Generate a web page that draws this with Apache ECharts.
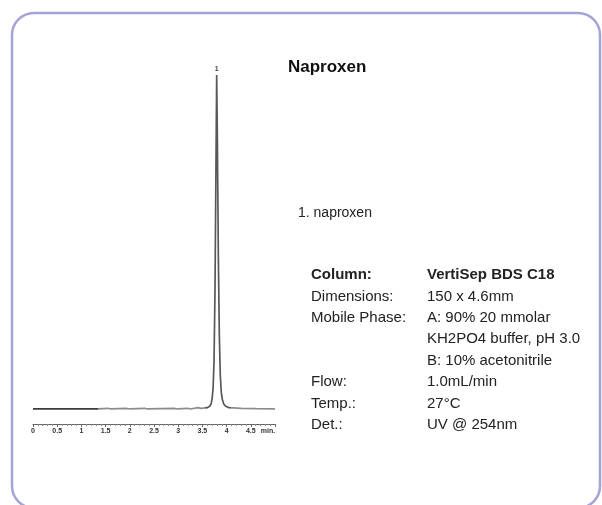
<!DOCTYPE html>
<html>
<head>
<meta charset="utf-8">
<title>Naproxen</title>
<script src="https://cdn.jsdelivr.net/npm/echarts@6/dist/echarts.min.js"></script>
<style>
    html, body {margin: 0; padding: 0; background: #fff;}
    #chart {width: 602px; height: 505px;}
</style>
</head>
<body>
<div id="chart"></div>
<script>
// retention time (min) and detector signal (% of peak height)
var timeMin = [0, 0.6, 1.35, 1.55, 1.6, 1.94, 2.0, 2.31, 2.36, 2.93, 2.98, 3.2, 3.25, 3.41, 3.47,
    3.6, 3.65, 3.68, 3.70, 3.72, 3.74, 3.76, 3.78, 3.795, 3.81, 3.83, 3.85, 3.87, 3.89, 3.91,
    3.94, 3.98, 4.05, 4.3, 4.6, 5.0];
var signal = [0, 0, 0, 0.2, 0, 0.15, 0, 0.2, 0, 0.15, 0, 0.2, 0, 0.4, 0.2,
    0.4, 0.8, 1.5, 3, 6, 14, 35, 72, 100, 80, 45, 22, 10, 5, 3,
    1.5, 0.8, 0.4, 0.2, 0.1, 0];

var tickLabels = ['0', '0.5', '1', '1.5', '2', '2.5', '3', '3.5', '4', '4.5', 'min.'];

var peakNames = ['1. naproxen'];

var infoLabels = ['Column:', 'Dimensions:', 'Mobile Phase:', '', '', 'Flow:', 'Temp.:', 'Det.:'];
var infoValues = ['VertiSep BDS C18', '150 x 4.6mm', 'A: 90% 20 mmolar', 'KH2PO4 buffer, pH 3.0',
    'B: 10% acetonitrile', '1.0mL/min', '27\u00B0C', 'UV @ 254nm'];

var chart = echarts.init(document.getElementById('chart'));

var seriesData = [];
for (var i = 0; i < timeMin.length; i++) {
    seriesData.push([timeMin[i], signal[i]]);
}

var graphics = [
    {
        type: 'rect',
        shape: {x: 12, y: 13, width: 588, height: 495, r: 22},
        style: {fill: 'none', stroke: '#a4a4d8', lineWidth: 2.5}
    },
    {
        type: 'text', x: 288, y: 67,
        style: {text: 'Naproxen', fill: '#111', font: 'bold 17px "Liberation Sans"', verticalAlign: 'middle'}
    },
    {
        type: 'text', x: 298, y: 213,
        style: {text: peakNames[0], fill: '#222', font: '14px "Liberation Sans"', verticalAlign: 'middle'}
    }
];
for (var k = 0; k < infoValues.length; k++) {
    var y = 275 + k * 21.4;
    var font = (k === 0 ? 'bold ' : '') + '15px "Liberation Sans"';
    if (infoLabels[k]) {
        graphics.push({type: 'text', x: 311, y: y,
            style: {text: infoLabels[k], fill: '#222', font: font, verticalAlign: 'middle'}});
    }
    graphics.push({type: 'text', x: 427, y: y,
        style: {text: infoValues[k], fill: '#222', font: font, verticalAlign: 'middle'}});
}

var option = {
    backgroundColor: '#fff',
    animation: false,
    grid: {left: 33, right: 327, top: 75, bottom: 81},
    xAxis: {
        type: 'value',
        min: 0,
        max: 5,
        interval: 0.5,
        splitLine: {show: false},
        axisLine: {onZero: false, lineStyle: {color: '#666', width: 1}},
        axisTick: {show: true, length: 3, lineStyle: {color: '#666'}},
        minorTick: {show: true, splitNumber: 5, length: 2, lineStyle: {color: '#888'}},
        axisLabel: {
            margin: 4,
            fontSize: 7,
            fontWeight: 'bold',
            color: '#333',
            fontFamily: 'Liberation Sans Narrow, Liberation Sans',
            formatter: function (v) {
                var t = tickLabels[Math.round(v / 0.5)];
                return v >= 5 ? '{m|' + t + '}' : t;
            },
            rich: {m: {fontSize: 7, fontWeight: 'bold', color: '#333', padding: [0, 14, 0, 0]}}
        }
    },
    yAxis: {
        type: 'value',
        min: -4.5,
        max: 100,
        show: false
    },
    visualMap: {
        show: false,
        dimension: 0,
        pieces: [
            {lt: 1.35, color: '#3c3c3c'},
            {gte: 1.35, lt: 3.55, color: '#8c8c8c'},
            {gte: 3.55, lt: 4.1, color: '#585858'},
            {gte: 4.1, color: '#8c8c8c'}
        ]
    },
    series: [
        {
            type: 'line',
            data: seriesData,
            showSymbol: false,
            symbol: 'none',
            lineStyle: {width: 1.7},
            markPoint: {
                symbol: 'circle',
                symbolSize: 1,
                itemStyle: {color: 'rgba(0,0,0,0)'},
                label: {show: true, formatter: '1', position: 'top', distance: 2,
                    fontSize: 7, color: '#444', fontWeight: 'bold'},
                data: [{type: 'max'}]
            }
        }
    ],
    graphic: graphics
};

chart.setOption(option);

window.addEventListener('resize', function () {
    chart.resize();
});
</script>
</body>
</html>
